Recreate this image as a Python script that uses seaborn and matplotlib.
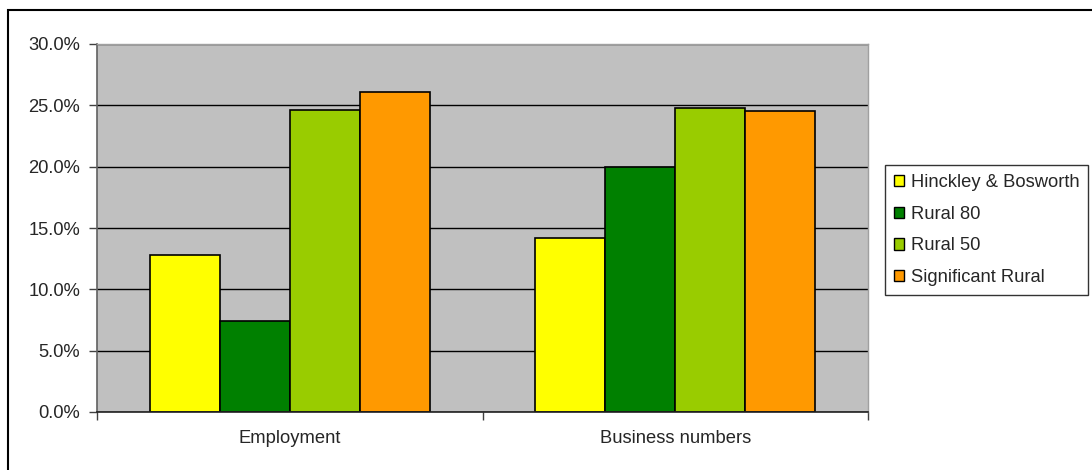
import numpy as np
import pandas as pd
import matplotlib
matplotlib.use("Agg")
import matplotlib.pyplot as plt
import seaborn as sns
from matplotlib.patches import Rectangle
from matplotlib.ticker import PercentFormatter

# values (percent)
categories = ["Employment", "Business numbers"]
series = ["Hinckley & Bosworth", "Rural 80", "Rural 50", "Significant Rural"]
employment = [12.8, 7.4, 24.6, 26.1]
business = [14.2, 20.0, 24.8, 24.5]
colors = ["#FFFF00", "#008000", "#99CC00", "#FF9900"]

rows = []
for s, e, b in zip(series, employment, business):
    rows.append({"Category": "Employment", "Series": s, "Value": e})
    rows.append({"Category": "Business numbers", "Series": s, "Value": b})
df = pd.DataFrame(rows)

sns.set_style("white")
plt.rcParams["font.family"] = ["Liberation Sans", "DejaVu Sans"]
fs = 13.2

fig = plt.figure(figsize=(10.92, 4.70), dpi=100)
ax = fig.add_axes([97/1092, 1-412/470, (868-97)/1092, (412-44)/470])
ax.set_facecolor("#C0C0C0")

sns.barplot(data=df, x="Category", y="Value", hue="Series", order=categories,
            hue_order=series, palette=colors, width=0.727, gap=0,
            edgecolor="black", linewidth=1.2, saturation=1, ax=ax, legend=True)

ax.set_ylim(0, 30)
ax.set_xlim(-0.5, 1.5)
ax.set_yticks(np.arange(0, 30.1, 5))
ax.yaxis.set_major_formatter(PercentFormatter(decimals=1))
ax.yaxis.grid(True, color="black", linewidth=1)
ax.set_axisbelow(True)
ax.set_xlabel("")
ax.set_ylabel("")

ax.tick_params(axis="y", which="major", direction="out", length=6, width=1,
               color="#404040", labelsize=fs, pad=6, left=True)
ax.tick_params(axis="x", which="major", length=0, labelsize=fs, pad=13)
ax.set_xticks([-0.5, 0.5, 1.5], minor=True)
ax.tick_params(axis="x", which="minor", direction="out", length=6, width=1,
               color="#404040", bottom=True)

for side in ["top", "right"]:
    ax.spines[side].set_color("#A0A0A0")
    ax.spines[side].set_linewidth(1)
ax.spines["left"].set_color("#606060")
ax.spines["left"].set_linewidth(1.2)
ax.spines["bottom"].set_color("#202020")
ax.spines["bottom"].set_linewidth(1.2)

leg = ax.legend(loc="upper left", bbox_to_anchor=(885/1092, 1-165/470),
                bbox_transform=fig.transFigure, frameon=True, fancybox=False,
                fontsize=fs, handlelength=0.55, handleheight=0.55,
                handletextpad=0.35, labelspacing=0.8, borderpad=0.5,
                borderaxespad=0, title=None)
leg.get_frame().set_edgecolor("black")
leg.get_frame().set_linewidth(1)
for h in leg.legend_handles:
    h.set_edgecolor("black")
    h.set_linewidth(1)

# outer chart border (only left and top visible in the reference)
fig.patches.append(Rectangle((8/1092, -0.1), 1.2, 1 - 10/470 + 0.1,
                             transform=fig.transFigure, fill=False,
                             edgecolor="black", linewidth=1.5))

fig.savefig("out.png", dpi=100)
